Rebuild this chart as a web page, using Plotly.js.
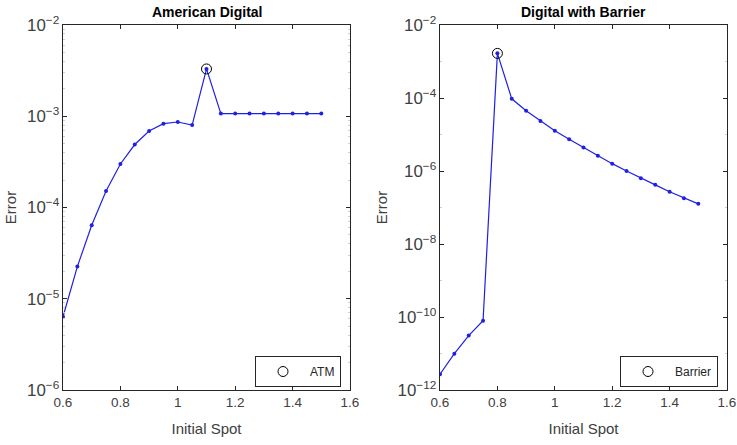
<!DOCTYPE html>
<html>
<head>
<meta charset="utf-8">
<script src="https://cdn.plot.ly/plotly-3.0.1.min.js"></script>
<style>
  html, body { margin: 0; padding: 0; background: #fff; }
  #chart { width: 737px; height: 445px; }
</style>
</head>
<body>
<div id="chart"></div>
<script>
// Initial spot grid shared by both panels
const spots = [0.6, 0.65, 0.7, 0.75, 0.8, 0.85, 0.9, 0.95, 1.0, 1.05,
               1.1, 1.15, 1.2, 1.25, 1.3, 1.35, 1.4, 1.45, 1.5];

// Pricing error, American digital option
const errAmerican = [6.35e-6, 2.25e-5, 6.4e-5, 1.52e-4, 3.0e-4, 4.9e-4, 6.9e-4, 8.3e-4,
                     8.65e-4, 8.0e-4, 3.3e-3, 1.07e-3, 1.07e-3, 1.07e-3, 1.07e-3,
                     1.07e-3, 1.07e-3, 1.07e-3, 1.07e-3];

// Pricing error, digital option with barrier
const errBarrier = [2.7e-12, 9.9e-12, 3.1e-11, 7.9e-11, 1.67e-3, 9.5e-5, 4.5e-5, 2.35e-5,
                    1.27e-5, 7.4e-6, 4.4e-6, 2.63e-6, 1.59e-6, 1.0e-6, 6.3e-7, 4.17e-7,
                    2.7e-7, 1.8e-7, 1.26e-7];

// Highlighted points
const atmSpot = [1.1];
const atmErr = [3.3e-3];
const barrierSpot = [0.8];
const barrierErr = [1.67e-3];

const titles = ['American Digital', 'Digital with Barrier'];
const legendNames = ['ATM', 'Barrier'];

const lineColor = '#1f1fe6';
const axisColor = '#262626';
const labelColor = '#404040';
const font = 'Liberation Sans, Arial, sans-serif';

const traces = [
  { x: spots, y: errAmerican, xaxis: 'x', yaxis: 'y', mode: 'lines+markers',
    line: { color: lineColor, width: 1.2 }, marker: { color: lineColor, size: 4 },
    showlegend: false, hoverinfo: 'x+y' },
  { x: atmSpot, y: atmErr, xaxis: 'x', yaxis: 'y', mode: 'markers', name: legendNames[0],
    marker: { symbol: 'circle-open', color: '#000', size: 10, line: { width: 1 } },
    legend: 'legend' },
  { x: spots, y: errBarrier, xaxis: 'x2', yaxis: 'y2', mode: 'lines+markers',
    line: { color: lineColor, width: 1.2 }, marker: { color: lineColor, size: 4 },
    showlegend: false, hoverinfo: 'x+y' },
  { x: barrierSpot, y: barrierErr, xaxis: 'x2', yaxis: 'y2', mode: 'markers', name: legendNames[1],
    marker: { symbol: 'circle-open', color: '#000', size: 10, line: { width: 1 } },
    legend: 'legend2' }
];

function xAxis(domain, anchor) {
  return {
    domain: domain, anchor: anchor, range: [0.6, 1.6], tick0: 0.6, dtick: 0.2,
    ticks: 'inside', ticklen: 4, tickcolor: axisColor, showline: true, linecolor: axisColor,
    linewidth: 1, mirror: 'ticks', showgrid: false, zeroline: false,
    tickfont: { family: font, size: 13.5, color: labelColor },
    title: { text: 'Initial Spot', font: { family: font, size: 15, color: labelColor }, standoff: 14 },
    automargin: false
  };
}

function yAxis(domain, anchor, range, dtick) {
  return {
    domain: domain, anchor: anchor, type: 'log', range: range, dtick: dtick,
    exponentformat: 'power', ticks: 'inside', ticklen: 4, tickcolor: axisColor,
    showline: true, linecolor: axisColor, linewidth: 1, mirror: 'ticks',
    showgrid: false, zeroline: false,
    minor: { ticks: 'inside', ticklen: 2, tickcolor: '#d0d0d0', showgrid: false },
    tickfont: { family: font, size: 13.5, color: labelColor },
    title: { text: 'Error', font: { family: font, size: 15, color: labelColor }, standoff: 6 },
    automargin: false
  };
}

function legendBox(x) {
  return {
    x: x, y: 0.2, xanchor: 'left', yanchor: 'top',
    bgcolor: '#fff', bordercolor: axisColor, borderwidth: 1,
    font: { family: font, size: 12, color: '#262626' },
    itemwidth: 44, tracegroupgap: 0
  };
}

const yDom = [1 - 390 / 445, 1 - 25 / 445];

const layout = {
  width: 737, height: 445,
  margin: { l: 0, r: 0, t: 0, b: 0 },
  paper_bgcolor: '#fff', plot_bgcolor: '#fff',
  xaxis: xAxis([63 / 737, 350 / 737], 'y'),
  yaxis: yAxis(yDom, 'x', [-6, -2], 1),
  xaxis2: xAxis([440 / 737, 727 / 737], 'y2'),
  yaxis2: yAxis(yDom, 'x2', [-12, -2], 2),
  legend: legendBox(255 / 737),
  legend2: legendBox(620 / 737),
  annotations: [
    { text: '<b>' + titles[0] + '</b>', xref: 'paper', yref: 'paper',
      x: (63 + 350) / 2 / 737, y: 1 - 12 / 445, xanchor: 'center', yanchor: 'middle',
      showarrow: false, font: { family: font, size: 14, color: '#000' } },
    { text: '<b>' + titles[1] + '</b>', xref: 'paper', yref: 'paper',
      x: (440 + 727) / 2 / 737, y: 1 - 12 / 445, xanchor: 'center', yanchor: 'middle',
      showarrow: false, font: { family: font, size: 14, color: '#000' } }
  ]
};

Plotly.newPlot('chart', traces, layout, { staticPlot: true });
</script>
</body>
</html>
